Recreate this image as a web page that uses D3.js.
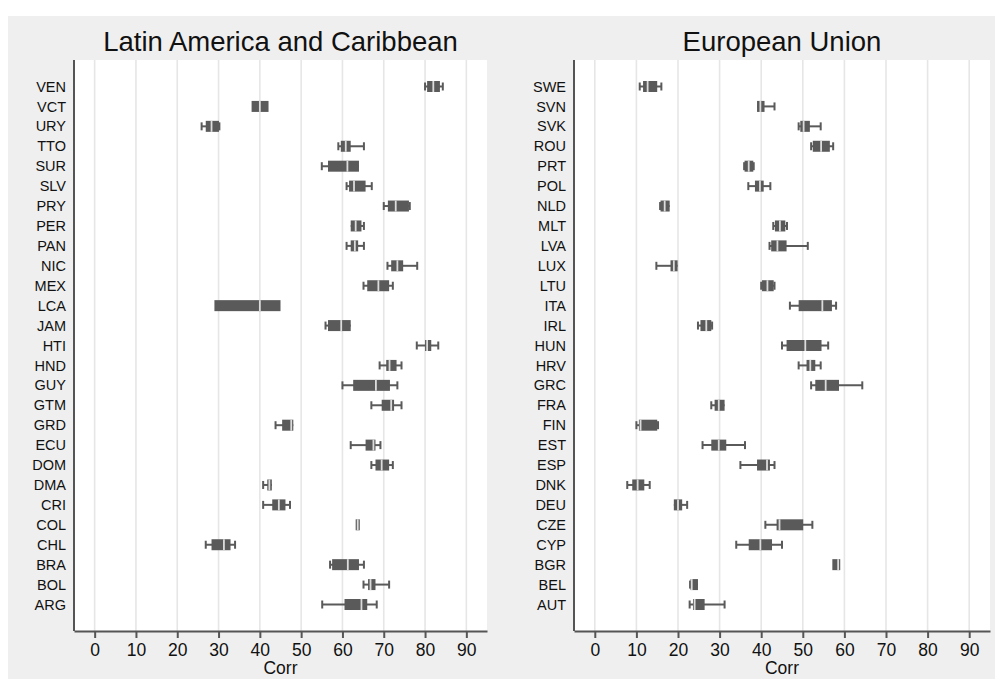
<!DOCTYPE html>
<html>
<head>
<meta charset="utf-8">
<script src="https://cdn.jsdelivr.net/npm/d3@7"></script>
<style>
  html, body { margin: 0; padding: 0; background: #ffffff; }
  svg { display: block; font-family: "Liberation Sans", Arial, sans-serif; }
</style>
</head>
<body>
<svg id="chart" width="995" height="679"></svg>
<script>
// Country box summaries of the correlation measure: min, q1, median, q3, max
const latamCountries = ["VEN","VCT","URY","TTO","SUR","SLV","PRY","PER","PAN","NIC","MEX","LCA","JAM","HTI","HND","GUY","GTM","GRD","ECU","DOM","DMA","CRI","COL","CHL","BRA","BOL","ARG"];
const latamMin    = [80.0, 38.0, 25.9, 59.0, 55.0, 61.0, 70.0, 62.0, 61.0, 70.9, 65.1, 29.0, 55.9, 78.0, 69.0, 60.0, 67.0, 43.8, 62.0, 67.0, 40.8, 40.8, 63.2, 26.9, 57.0, 65.1, 55.1];
const latamQ1     = [80.5, 38.0, 26.9, 59.6, 56.5, 61.6, 71.0, 62.0, 62.0, 71.8, 66.0, 29.0, 56.5, 80.0, 70.6, 62.6, 69.5, 45.4, 65.6, 68.0, 41.8, 43.0, 63.2, 28.3, 57.5, 66.2, 60.5];
const latamMedian = [82.0, 40.0, 28.3, 60.8, 61.2, 62.8, 72.9, 63.2, 63.0, 73.3, 68.7, 40.0, 59.7, 80.5, 71.4, 68.1, 71.8, 47.6, 67.5, 69.5, 42.3, 44.6, 63.7, 31.3, 61.3, 66.8, 64.6];
const latamQ3     = [83.6, 42.1, 30.1, 62.0, 64.0, 65.6, 76.1, 64.6, 63.8, 74.7, 71.3, 45.0, 62.0, 81.5, 73.1, 71.5, 72.5, 48.1, 68.0, 71.3, 42.9, 46.2, 64.2, 32.9, 64.0, 68.0, 66.0];
const latamMax    = [84.3, 42.1, 30.2, 65.2, 64.0, 67.1, 76.3, 65.2, 65.2, 78.1, 72.2, 45.0, 62.0, 83.2, 74.3, 73.3, 74.3, 48.1, 69.2, 72.2, 42.9, 47.3, 64.2, 34.0, 65.2, 71.3, 68.3];

const euCountries = ["SWE","SVN","SVK","ROU","PRT","POL","NLD","MLT","LVA","LUX","LTU","ITA","IRL","HUN","HRV","GRC","FRA","FIN","EST","ESP","DNK","DEU","CZE","CYP","BGR","BEL","AUT"];
const euMin    = [10.8, 39.0, 49.0, 52.0, 35.9, 36.9, 15.7, 42.9, 42.0, 14.8, 40.0, 46.9, 24.8, 45.0, 49.0, 52.0, 28.0, 10.0, 25.9, 35.0,  7.8, 19.0, 41.0, 34.0, 57.1, 22.9, 22.8];
const euQ1     = [11.6, 39.0, 49.4, 52.4, 36.0, 38.5, 15.8, 43.3, 42.4, 18.2, 40.2, 49.0, 25.4, 46.1, 50.9, 53.0, 28.8, 10.6, 28.0, 39.0,  9.0, 19.0, 43.7, 37.0, 57.1, 23.0, 23.6];
const euMedian = [12.7, 39.8, 50.2, 54.4, 37.0, 39.7, 16.8, 44.5, 43.9, 19.0, 41.5, 54.7, 26.8, 50.6, 51.8, 55.5, 29.8, 11.0, 29.8, 41.4, 10.3, 20.0, 44.4, 39.8, 58.5, 23.3, 24.0];
const euQ3     = [15.0, 40.8, 51.7, 56.5, 38.1, 40.6, 18.0, 45.8, 46.1, 19.9, 43.0, 57.0, 28.0, 54.5, 53.0, 58.7, 31.2, 15.0, 31.6, 42.1, 11.9, 21.0, 50.1, 42.6, 59.0, 24.8, 26.4];
const euMax    = [16.0, 43.2, 54.3, 57.3, 38.2, 42.2, 18.0, 46.2, 51.2, 19.9, 43.2, 58.0, 28.2, 56.1, 54.3, 64.3, 31.2, 15.2, 36.1, 43.2, 13.2, 22.2, 52.3, 45.0, 59.0, 24.8, 31.2];

const xTicks = [0, 10, 20, 30, 40, 50, 60, 70, 80, 90];
const xDomain = [-5, 95];
const xTitle = "Corr";

const svg = d3.select("#chart");

// grey graph region
svg.append("rect")
  .attr("x", 8).attr("y", 16)
  .attr("width", 995 - 8).attr("height", 679 - 16)
  .attr("fill", "#efefef");

function drawPanel(cfg) {
  const { title, countries, mins, q1s, meds, q3s, maxs, left, right } = cfg;
  const top = 60, bottom = 631;

  const x = d3.scaleLinear().domain(xDomain).range([left, right]);
  const y = d3.scalePoint().domain(countries).range([top, bottom]).padding(1.33);

  const g = svg.append("g");

  // plot area
  g.append("rect")
    .attr("x", left).attr("y", top)
    .attr("width", right - left).attr("height", bottom - top)
    .attr("fill", "#ffffff");

  // vertical grid
  g.append("g").selectAll("line").data(xTicks).join("line")
    .attr("x1", d => x(d)).attr("x2", d => x(d))
    .attr("y1", top).attr("y2", bottom)
    .attr("stroke", "#e6e6e6").attr("stroke-width", 1.6);

  // title
  g.append("text")
    .attr("x", (left + right) / 2).attr("y", 51)
    .attr("text-anchor", "middle")
    .attr("font-size", 27.5)
    .attr("fill", "#111111")
    .text(title);

  const rows = countries.map((c, i) => ({ c, min: mins[i], q1: q1s[i], med: meds[i], q3: q3s[i], max: maxs[i] }));
  const boxH = 11, capH = 8, col = "#5a5a5a";

  const row = g.append("g").selectAll("g").data(rows).join("g")
    .attr("transform", d => `translate(0,${y(d.c)})`);

  // whiskers, drawn only where they reach past the box
  row.filter(d => d.min < d.q1 || d.max > d.q3).append("line")
    .attr("x1", d => x(d.min)).attr("x2", d => x(d.max))
    .attr("y1", 0).attr("y2", 0)
    .attr("stroke", col).attr("stroke-width", 2);
  row.filter(d => d.min < d.q1).append("line")
    .attr("x1", d => x(d.min)).attr("x2", d => x(d.min))
    .attr("y1", -capH / 2).attr("y2", capH / 2)
    .attr("stroke", col).attr("stroke-width", 2);
  row.filter(d => d.max > d.q3).append("line")
    .attr("x1", d => x(d.max)).attr("x2", d => x(d.max))
    .attr("y1", -capH / 2).attr("y2", capH / 2)
    .attr("stroke", col).attr("stroke-width", 2);

  // interquartile box
  row.append("rect")
    .attr("x", d => x(d.q1)).attr("y", -boxH / 2)
    .attr("width", d => Math.max(1.5, x(d.q3) - x(d.q1)))
    .attr("height", boxH)
    .attr("fill", col);

  // median
  row.append("line")
    .attr("x1", d => x(d.med)).attr("x2", d => x(d.med))
    .attr("y1", -boxH / 2).attr("y2", boxH / 2)
    .attr("stroke", "#dcdcdc").attr("stroke-width", 1.8);

  // y axis (category labels, no tick marks)
  const yAxis = g.append("g")
    .attr("transform", `translate(${left},0)`)
    .call(d3.axisLeft(y).tickSize(0).tickPadding(8));
  yAxis.select(".domain").remove();
  yAxis.selectAll("text")
    .attr("font-size", 14.5)
    .attr("font-family", "Liberation Sans, Arial, sans-serif")
    .attr("fill", "#111111");
  g.append("line")
    .attr("x1", left).attr("x2", left)
    .attr("y1", top).attr("y2", bottom)
    .attr("stroke", "#555555").attr("stroke-width", 2);

  // x axis
  const xAxis = g.append("g")
    .attr("transform", `translate(0,${bottom})`)
    .call(d3.axisBottom(x).tickValues(xTicks).tickSize(7).tickPadding(6).tickSizeOuter(0));
  xAxis.select(".domain").attr("stroke", "#555555").attr("stroke-width", 2);
  xAxis.selectAll(".tick line").attr("stroke", "#555555").attr("stroke-width", 2);
  xAxis.selectAll("text")
    .attr("font-size", 17.5)
    .attr("font-family", "Liberation Sans, Arial, sans-serif")
    .attr("fill", "#111111");

  // axis title, centred under the plot region
  g.append("text")
    .attr("x", (left + right) / 2).attr("y", 674)
    .attr("text-anchor", "middle")
    .attr("font-size", 17.5)
    .attr("fill", "#111111")
    .text(xTitle);
}

drawPanel({
  title: "Latin America and Caribbean",
  countries: latamCountries, mins: latamMin, q1s: latamQ1, meds: latamMedian, q3s: latamQ3, maxs: latamMax,
  left: 74, right: 487
});

drawPanel({
  title: "European Union",
  countries: euCountries, mins: euMin, q1s: euQ1, meds: euMedian, q3s: euQ3, maxs: euMax,
  left: 574, right: 990
});
</script>
</body>
</html>
